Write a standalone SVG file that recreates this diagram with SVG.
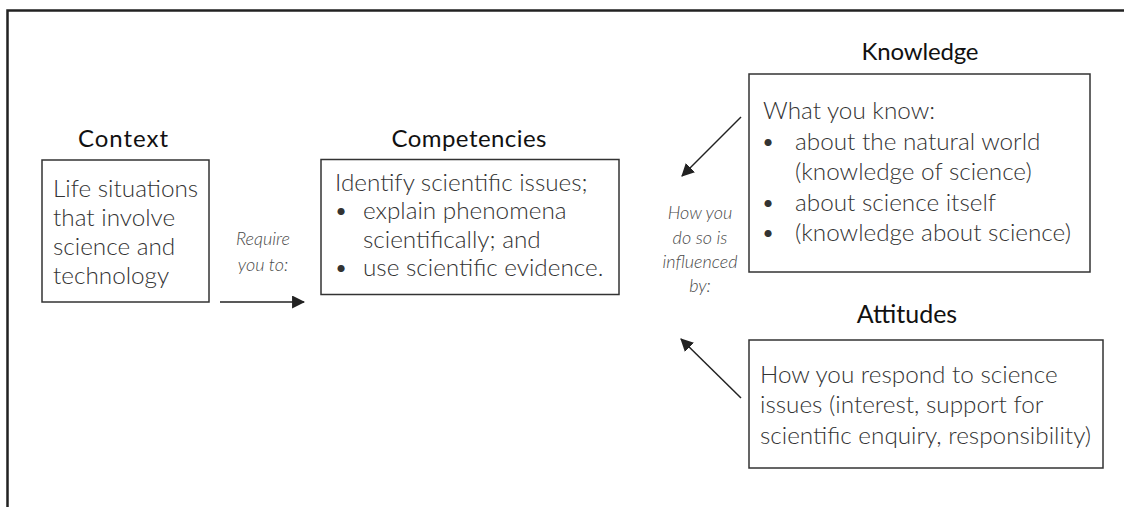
<svg xmlns="http://www.w3.org/2000/svg" width="1124" height="507" viewBox="0 0 1124 507">
<style>
.frame{fill:none;stroke:#222;stroke-width:2.5}
.box{fill:#fff;stroke:#333;stroke-width:1.5}
.title{font-family:Lato,"Liberation Sans",sans-serif;font-size:24px;fill:#111;text-anchor:middle}
.body{font-family:Lato,"Liberation Sans",sans-serif;font-weight:300;font-size:24.3px;fill:#333}
.lbl{font-family:Lato,"Liberation Sans",sans-serif;font-weight:300;font-style:italic;font-size:18px;fill:#4a4a4a;text-anchor:middle}
.conn{fill:none;stroke:#222;stroke-width:1.5}
</style>
<defs>
<marker id="ah" viewBox="0 0 12 12" refX="11" refY="6" markerWidth="13" markerHeight="13" markerUnits="userSpaceOnUse" orient="auto">
<path d="M0,0 L12,6 L0,12 z" fill="#222"/>
</marker>
</defs>
<rect width="1124" height="507" fill="#fff"/>
<path class="frame" d="M7.5,507 V10.5 H1124"/>
<g id="context">
<text class="title" x="123" y="147" textLength="90">Context</text>
<rect class="box" x="42" y="160" width="167" height="142"/>
<text class="body" x="53" y="197">Life situations</text>
<text class="body" x="53" y="226">that involve</text>
<text class="body" x="53" y="255">science and</text>
<text class="body" x="53" y="284">technology</text>
</g>
<g id="competencies">
<text class="title" x="469" y="147" textLength="155">Competencies</text>
<rect class="box" x="321" y="159.5" width="298" height="135"/>
<text class="body" x="335" y="191">Identify scientific issues;</text>
<text class="body" x="334" y="219">•</text>
<text class="body" x="363" y="219">explain phenomena</text>
<text class="body" x="363" y="248">scientifically; and</text>
<text class="body" x="334" y="276">•</text>
<text class="body" x="363" y="276">use scientific evidence.</text>
</g>
<g id="knowledge">
<text class="title" x="920" y="60" textLength="117">Knowledge</text>
<rect class="box" x="749" y="74" width="341" height="198"/>
<text class="body" x="763" y="119">What you know:</text>
<text class="body" x="761" y="150">•</text>
<text class="body" x="795" y="150">about the natural world</text>
<text class="body" x="795" y="180">(knowledge of science)</text>
<text class="body" x="761" y="211">•</text>
<text class="body" x="795" y="211">about science itself</text>
<text class="body" x="761" y="241">•</text>
<text class="body" x="795" y="241">(knowledge about science)</text>
</g>
<g id="attitudes">
<text class="title" x="907" y="323" style="font-size:25px">Attitudes</text>
<rect class="box" x="749" y="340" width="354" height="128"/>
<text class="body" x="760" y="383">How you respond to science</text>
<text class="body" x="760" y="413">issues (interest, support for</text>
<text class="body" x="760" y="444">scientific enquiry, responsibility)</text>
</g>
<g id="connectors">
<line class="conn" x1="220" y1="302" x2="304" y2="302" marker-end="url(#ah)"/>
<line class="conn" x1="741" y1="117" x2="682" y2="176" marker-end="url(#ah)"/>
<line class="conn" x1="741" y1="398" x2="681" y2="339" marker-end="url(#ah)"/>
<text class="lbl" x="263" y="245">Require</text>
<text class="lbl" x="263" y="271">you to:</text>
<text class="lbl" x="700" y="219">How you</text>
<text class="lbl" x="700" y="244">do so is</text>
<text class="lbl" x="700" y="268">influenced</text>
<text class="lbl" x="700" y="292">by:</text>
</g>
</svg>
